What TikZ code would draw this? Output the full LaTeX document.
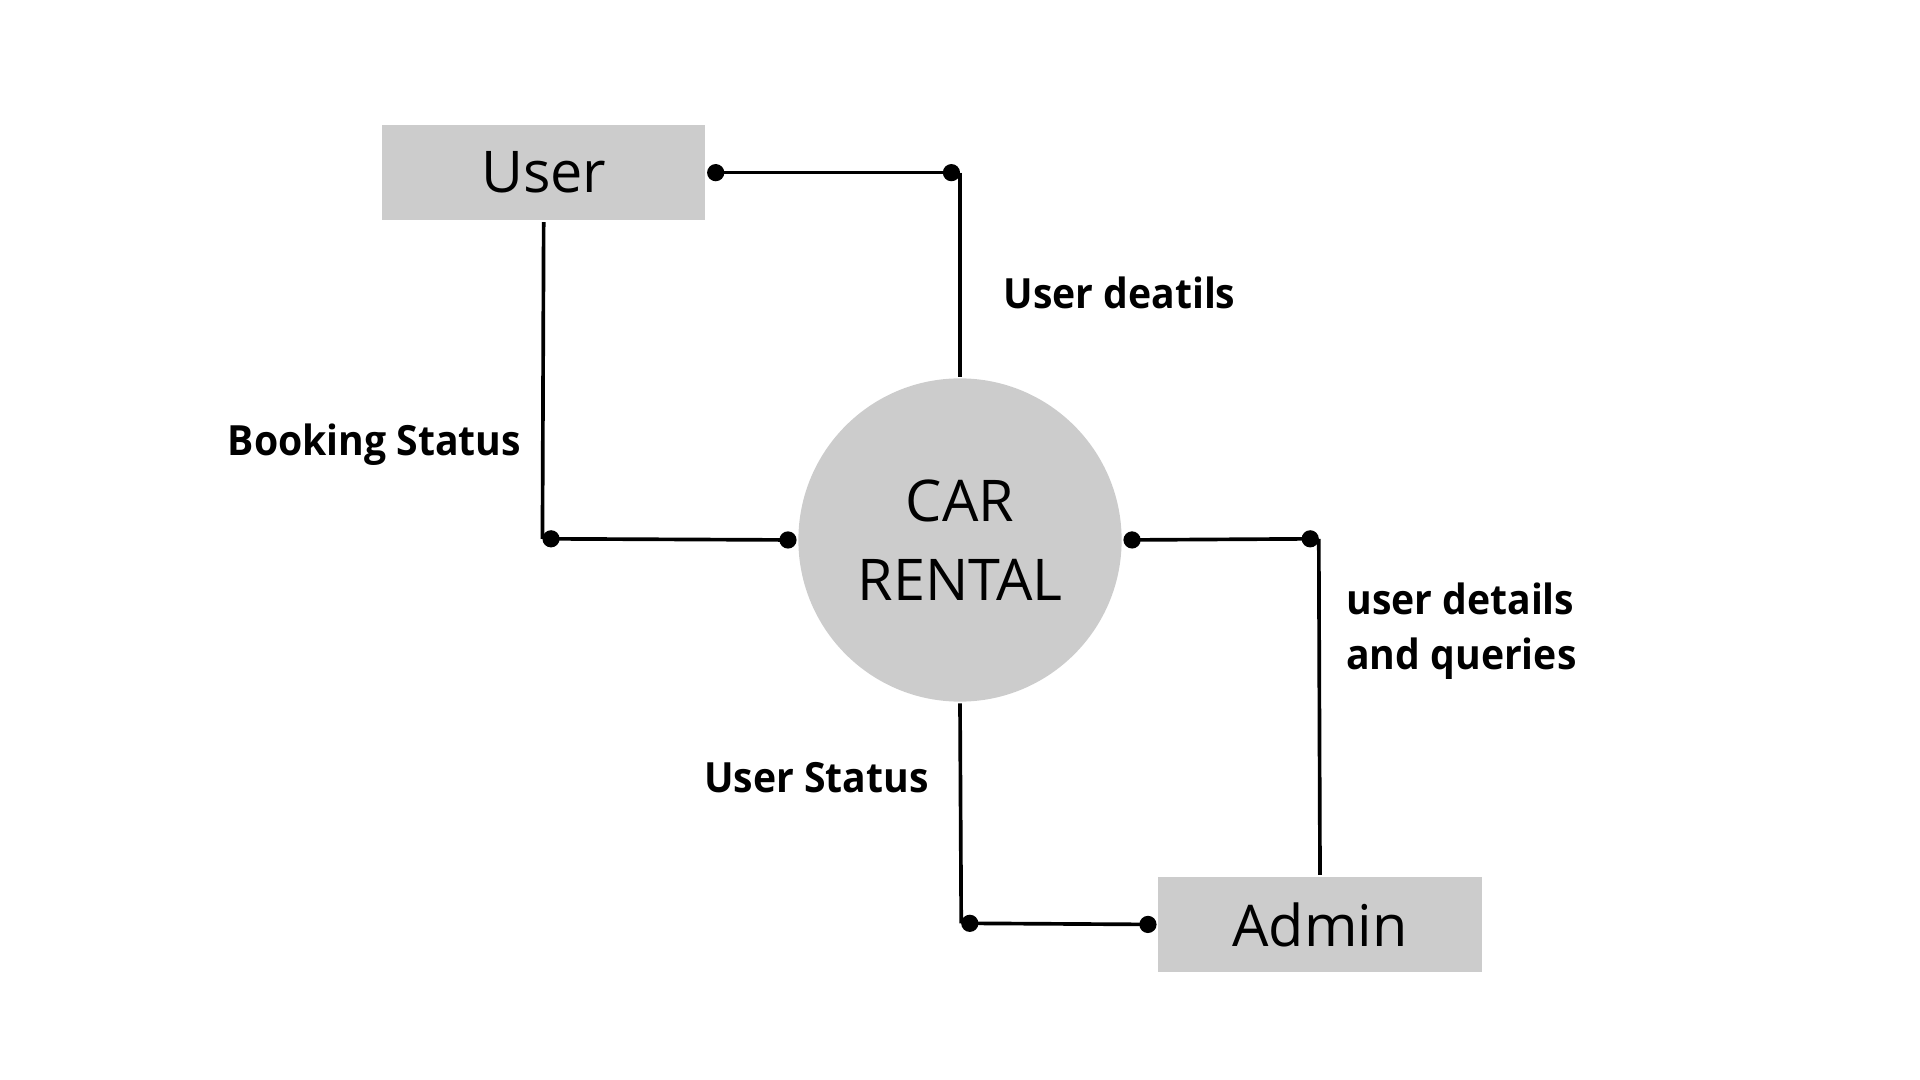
\documentclass[tikz,border=0pt]{standalone}
\usepackage{fontspec}
\setmainfont{Open Sans}
\newfontfamily\flowfont{Open Sans}[FakeStretch=0.94]
\usetikzlibrary{arrows.meta}
\definecolor{boxgray}{HTML}{CCCCCC}
\begin{document}
\begin{tikzpicture}[x=1pt, y=-1pt, line width=3pt,
  entity/.style={fill=boxgray, minimum width=264pt, minimum height=78pt, inner sep=0pt, font=\fontsize{47}{56}\selectfont},
  process/.style={circle, fill=boxgray, minimum size=264pt, inner sep=0pt, align=center, font=\fontsize{47}{64.5}\selectfont},
  flow/.style={font=\flowfont\bfseries\fontsize{34}{45}\selectfont, align=left, inner sep=0pt},
  dots/.style={{Circle[length=14pt]}-{Circle[length=14pt]}}]

\useasboundingbox (0,0) rectangle (1568,882);

\node[entity] (user) at (444,141) {User};
\node[process] (rental) at (784,441) {CAR\\RENTAL};
\node[entity] (admin) at (1078,755) {Admin};

\coordinate (c1) at (784,141);
\coordinate (c2) at (443,440);
\coordinate (c3) at (1077,440);
\coordinate (c4) at (785,754);

\node[flow, anchor=base west] (l1) at (818,252) {User deatils};
\node[flow, anchor=base east] (l2) at (427,372) {Booking Status};
\node[flow, anchor=base west] (l3) at (1098,547) {user details\\and queries};
\node[flow, anchor=base east] (l4) at (760,647) {User Status};

% data flows
\draw[dots] (user.east) -- (c1);
\draw (c1) -- (rental.north);
\draw (user.south) -- (c2);
\draw[dots] (c2) -- (rental.west);
\draw[dots] (rental.east) -- (c3);
\draw (c3) -- (admin.north);
\draw (rental.south) -- (c4);
\draw[dots] (c4) -- (admin.west);

\end{tikzpicture}
\end{document}
